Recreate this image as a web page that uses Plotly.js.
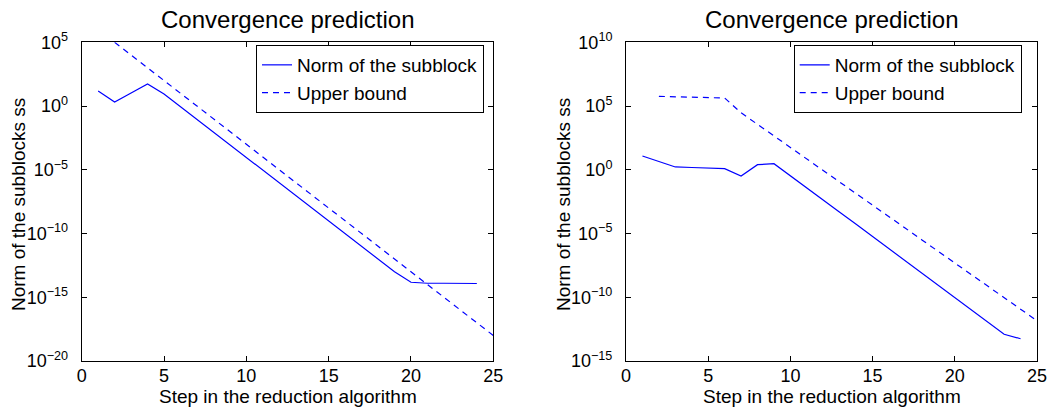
<!DOCTYPE html>
<html>
<head>
<meta charset="utf-8">
<script src="https://cdn.plot.ly/plotly-3.0.1.min.js"></script>
<style>html,body{margin:0;padding:0;background:#fff;}#chart{width:1050px;height:408px;}</style>
</head>
<body>
<div id="chart"></div>
<script>
// ---- Data ----
const stepsA = [1,2,3,4,5,6,7,8,9,10,11,12,13,14,15,16,17,18,19,20,21,22,23,24];
const normA = [15.1, 2.09, 10.7, 53.7, 8.91, 0.891, 0.0891, 8.91e-3, 8.91e-4, 8.91e-5, 8.91e-6, 8.91e-7,
               8.91e-8, 8.91e-9, 8.91e-10, 8.91e-11, 8.91e-12, 8.91e-13, 1.0e-13, 1.5e-14, 1.26e-14, 1.26e-14, 1.24e-14, 1.2e-14];
const boundStepsA = [2,3,4,5,6,7,8,9,10,11,12,13,14,15,16,17,18,19,20,21,22,23,24,25];
const boundA = [1e5,1e4,1e3,1e2,1e1,1e0,1e-1,1e-2,1e-3,1e-4,1e-5,1e-6,1e-7,1e-8,1e-9,1e-10,1e-11,1e-12,
                1e-13,1e-14,1e-15,1e-16,1e-17,1e-18];

const stepsB = [1,2,3,4,5,6,7,8,9,10,11,12,13,14,15,16,17,18,19,20,21,22,23,24];
const normB = [12.0, 4.47, 1.66, 1.51, 1.38, 1.23, 0.32, 2.5, 3.0, 0.347, 0.0389, 4.27e-3, 4.68e-4, 5.25e-5,
               5.75e-6, 6.3e-7, 6.9e-8, 7.76e-9, 8.5e-10, 9.3e-11, 1.02e-11, 1.15e-12, 1.26e-13, 5.6e-14];
const boundStepsB = [2,3,4,5,6,7,8,9,10,11,12,13,14,15,16,17,18,19,20,21,22,23,24,25];
const boundB = [5.75e5, 5.25e5, 4.9e5, 4.57e5, 4.27e5, 2.95e4, 3.6e3, 457, 56, 6.9, 0.87, 0.107, 0.0135,
                1.66e-3, 2.04e-4, 2.57e-5, 3.16e-6, 3.98e-7, 4.9e-8, 6.03e-9, 7.59e-10, 9.33e-11, 1.17e-11, 1.45e-12];

const xTicks = [0,5,10,15,20,25];
const yTickValsA = [1e5,1e0,1e-5,1e-10,1e-15,1e-20];
const yTickTextA = ['10<sup>5</sup>','10<sup>0</sup>','10<sup>−5</sup>','10<sup>−10</sup>','10<sup>−15</sup>','10<sup>−20</sup>'];
const yTickValsB = [1e10,1e5,1e0,1e-5,1e-10,1e-15];
const yTickTextB = ['10<sup>10</sup>','10<sup>5</sup>','10<sup>0</sup>','10<sup>−5</sup>','10<sup>−10</sup>','10<sup>−15</sup>'];

const seriesNames = ['Norm of the subblock','Upper bound'];
const titleText = 'Convergence prediction';
const xTitle = 'Step in the reduction algorithm';
const yTitle = 'Norm of the subblocks ss';

// ---- Styling ----
const FONT = 'Liberation Sans, Arial, Helvetica, sans-serif';
const BLUE = '#0000ff';

const traces = [
  {x: stepsA, y: normA, type:'scatter', mode:'lines', name: seriesNames[0], xaxis:'x', yaxis:'y', legend:'legend',
   line:{color:BLUE, width:1.2}},
  {x: boundStepsA, y: boundA, type:'scatter', mode:'lines', name: seriesNames[1], xaxis:'x', yaxis:'y', legend:'legend',
   line:{color:BLUE, width:1.2, dash:'6px,5px'}},
  {x: stepsB, y: normB, type:'scatter', mode:'lines', name: seriesNames[0], xaxis:'x2', yaxis:'y2', legend:'legend2',
   line:{color:BLUE, width:1.2}},
  {x: boundStepsB, y: boundB, type:'scatter', mode:'lines', name: seriesNames[1], xaxis:'x2', yaxis:'y2', legend:'legend2',
   line:{color:BLUE, width:1.2, dash:'6px,5px'}}
];

const W = 1050, H = 408;
const yDom = [1 - 361/H, 1 - 42.3/H];
const xDomA = [81.7/W, 493.3/W];
const xDomB = [626/W, 1037/W];

function xAxis(dom, anchor){
  return {domain: dom, anchor: anchor, range:[0,25], tickvals: xTicks, ticktext: xTicks.map(String),
    ticks:'inside', ticklen:5, tickcolor:'#000', showline:true, linecolor:'#000', linewidth:1, mirror:'ticks',
    showgrid:false, zeroline:false, tickfont:{family:FONT, size:18, color:'#000'}, ticklabelstandoff:-2};
}
function yAxis(rng, vals, text, anchor){
  return {domain: yDom, anchor: anchor, type:'log', range: rng, tickvals: vals, ticktext: text,
    ticks:'inside', ticklen:5, tickcolor:'#000', showline:true, linecolor:'#000', linewidth:1, mirror:'ticks',
    showgrid:false, zeroline:false, tickfont:{family:FONT, size:18, color:'#000'}, ticklabelstandoff:9};
}

const legendStyle = {bordercolor:'#000', borderwidth:1, bgcolor:'#fff', font:{family:FONT, size:19, color:'#000'},
  xanchor:'right', yanchor:'top', tracegroupgap:0, itemwidth:30};

const layout = {
  width: W, height: H, margin:{l:0, r:0, t:0, b:0}, paper_bgcolor:'#fff', plot_bgcolor:'#fff',
  showlegend:true,
  font:{family:FONT, color:'#000'},
  xaxis: xAxis(xDomA, 'y'),
  yaxis: yAxis([-20,5], yTickValsA, yTickTextA, 'x'),
  xaxis2: xAxis(xDomB, 'y2'),
  yaxis2: yAxis([-15,10], yTickValsB, yTickTextB, 'x2'),
  legend: Object.assign({x: 484/W, y: 1 - 45/H}, legendStyle),
  legend2: Object.assign({x: 1021.7/W, y: 1 - 45/H}, legendStyle),
  annotations: [
    {text: titleText, xref:'paper', yref:'paper', x:(xDomA[0]+xDomA[1])/2, y:1-19/H, xanchor:'center', yanchor:'middle', showarrow:false, font:{family:FONT, size:24, color:'#000'}},
    {text: titleText, xref:'paper', yref:'paper', x:(xDomB[0]+xDomB[1])/2, y:1-19/H, xanchor:'center', yanchor:'middle', showarrow:false, font:{family:FONT, size:24, color:'#000'}},
    {text: xTitle, xref:'paper', yref:'paper', x:(xDomA[0]+xDomA[1])/2, y:1-396/H, xanchor:'center', yanchor:'middle', showarrow:false, font:{family:FONT, size:19, color:'#000'}},
    {text: xTitle, xref:'paper', yref:'paper', x:(xDomB[0]+xDomB[1])/2, y:1-396/H, xanchor:'center', yanchor:'middle', showarrow:false, font:{family:FONT, size:19, color:'#000'}},
    {text: yTitle, xref:'paper', yref:'paper', x:18/W, y:1-205/H, xanchor:'center', yanchor:'middle', textangle:-90, showarrow:false, font:{family:FONT, size:19, color:'#000'}},
    {text: yTitle, xref:'paper', yref:'paper', x:563/W, y:1-205/H, xanchor:'center', yanchor:'middle', textangle:-90, showarrow:false, font:{family:FONT, size:19, color:'#000'}}
  ]
};

Plotly.newPlot('chart', traces, layout, {staticPlot:true, displayModeBar:false});
</script>
</body>
</html>
